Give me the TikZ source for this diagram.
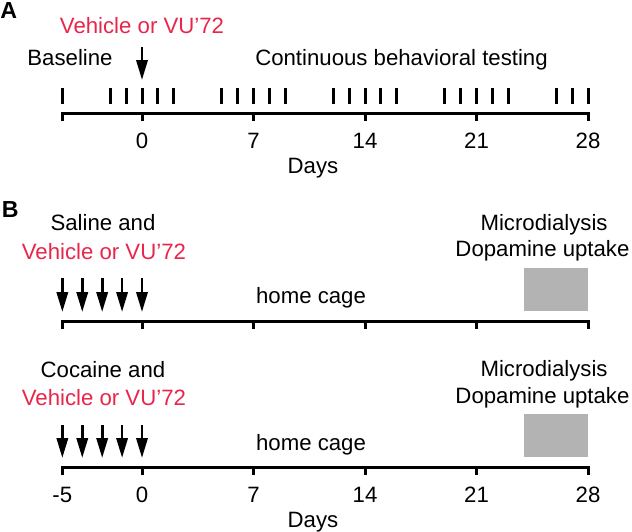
\documentclass[tikz,border=0pt]{standalone}
\usepackage{fontspec}
\setmainfont{Liberation Sans}
\usetikzlibrary{arrows.meta}
\definecolor{vured}{HTML}{E8254A}
\definecolor{boxgray}{HTML}{B3B3B3}

\begin{document}
\begin{tikzpicture}[x=7.965pt,y=-0.5pt,
    txt/.style={inner sep=0pt,anchor=base,font=\fontsize{11.1}{13}\selectfont},
    drug/.style={txt,text=vured},
    panel/.style={inner sep=0pt,anchor=base west,font=\fontsize{11.6}{13}\selectfont\bfseries},
    ax/.style={line width=1.5pt},
    testbar/.style={line width=1.5pt},
    arr/.style={-{Triangle[length=10pt,width=5.6pt]},line width=1.4pt},
    win/.style={fill=boxgray,draw=none}]
    \useasboundingbox (-8.914,0) rectangle (30.760,531);
    % A: continuous testing
    \node[panel] (la) at (-8.914,18) {A};
    \node[drug] (drugA) at (0,33) {Vehicle or VU'72};
    \node[txt] (base) at (-4.52,65) {Baseline};
    \node[txt] (cont) at (16.29,65) {Continuous behavioral testing};
    \coordinate (injA) at (0,47);
    \coordinate (injAtip) at (0,80);
    \draw[arr] (injA) -- (injAtip);
    \foreach \d in {-5,-2,-1,0,1,2,5,6,7,8,9,12,13,14,15,16,19,20,21,22,23,26,27,28}
      \draw[testbar] (\d,88) -- (\d,104);
    \draw[ax] (-5,121) -- (-5,113) -- (28,113) -- (28,121);
    \foreach \d in {0,7,14,21}
      \draw[ax] (\d,113) -- (\d,121);
    \foreach \d in {0,7,14,21,28}
      \node[txt] (ta\d) at (\d,148) {\d};
    \node[txt] (daysA) at (10.73,173) {Days};
    % B: saline
    \node[panel] (lb) at (-8.82,217) {B};
    \node[txt] (sal) at (-2.45,230) {Saline and};
    \node[drug] (drugS) at (-2.39,259) {Vehicle or VU'72};
    \foreach \d [count=\i] in {-5,-3.75,-2.5,-1.25,0}{
      \coordinate (s\i) at (\d,278);
      \coordinate (s\i tip) at (\d,312);
      \draw[arr] (s\i) -- (s\i tip);
    }
    \draw[ax] (-5,329) -- (-5,321) -- (28,321) -- (28,329);
    \foreach \d in {0,7,14,21}
      \draw[ax] (\d,321) -- (\d,329);
    \node[txt] (homeS) at (10.61,303) {home cage};
    \fill[win] (24,268) rectangle (28,311);
    \node[txt] (microS) at (25.24,230) {Microdialysis};
    \node[txt] (daS) at (25.14,256) {Dopamine uptake};
    % B: cocaine
    \node[txt] (coc) at (-2.45,377) {Cocaine and};
    \node[drug] (drugC) at (-2.39,405) {Vehicle or VU'72};
    \foreach \d [count=\i] in {-5,-3.75,-2.5,-1.25,0}{
      \coordinate (c\i) at (\d,425);
      \coordinate (c\i tip) at (\d,458);
      \draw[arr] (c\i) -- (c\i tip);
    }
    \draw[ax] (-5,475) -- (-5,467) -- (28,467) -- (28,475);
    \foreach \d in {0,7,14,21}
      \draw[ax] (\d,467) -- (\d,475);
    \node[txt] (homeC) at (10.61,450) {home cage};
    \fill[win] (24,414) rectangle (28,457);
    \node[txt] (microC) at (25.24,376) {Microdialysis};
    \node[txt] (daC) at (25.14,403) {Dopamine uptake};
    \foreach \d in {-5,0,7,14,21,28}
      \node[txt] (tc\d) at (\d,502) {\d};
    \node[txt] (daysC) at (10.73,527) {Days};
\end{tikzpicture}
\end{document}
